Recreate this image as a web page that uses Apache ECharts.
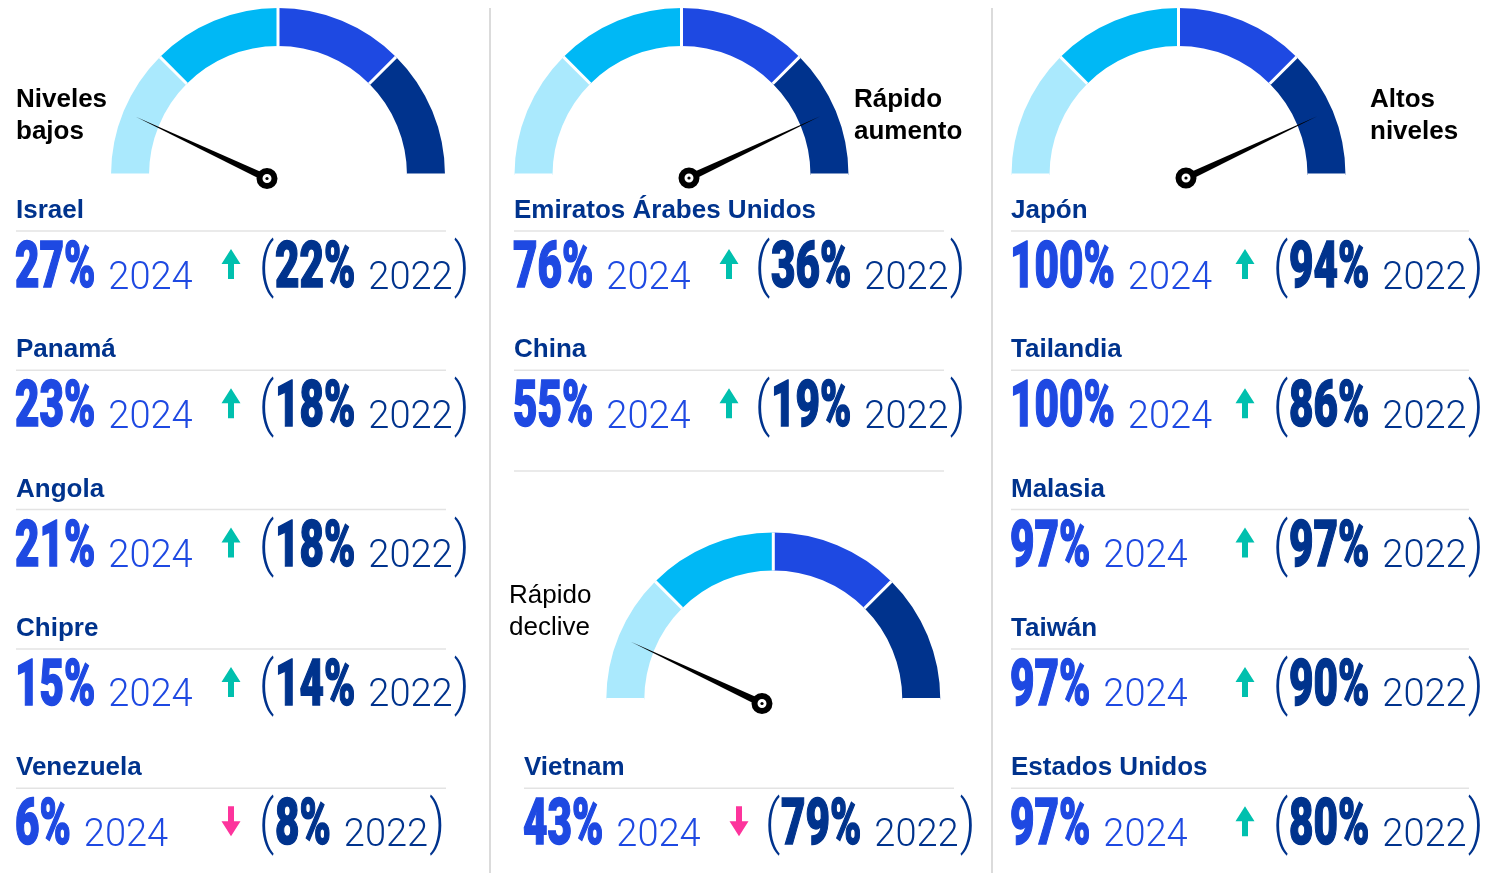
<!DOCTYPE html>
<html>
<head>
<meta charset="utf-8">
<script src="https://cdn.jsdelivr.net/npm/echarts@6/dist/echarts.min.js"></script>
<style>
  html, body { margin: 0; background: #fff; }
  #chart { width: 1499px; height: 873px; }
</style>
</head>
<body>
<div id="chart"></div>
<script>
// data
const countries = ['Israel', 'Panamá', 'Angola', 'Chipre', 'Venezuela',
  'Emiratos Árabes Unidos', 'China', 'Vietnam',
  'Japón', 'Tailandia', 'Malasia', 'Taiwán', 'Estados Unidos']
const share2024 = [27, 23, 21, 15, 6, 76, 55, 43, 100, 100, 97, 97, 97]
const share2022 = [22, 18, 18, 14, 8, 36, 19, 79, 94, 86, 97, 90, 80]
const gaugeLabels = ['Niveles\nbajos', 'Rápido\naumento', 'Altos\nniveles', 'Rápido\ndeclive']
const needleValues = [14, 86, 86, 14]
const bandColors = ['#AAE9FD', '#00B8F5', '#1E49E2', '#00338D']

// layout: [column, row, extra x shift]
const slots = [[0, 0, 0], [0, 1, 0], [0, 2, 0], [0, 3, 0], [0, 4, 0],
  [1, 0, 0], [1, 1, 0], [1, 4, 10],
  [2, 0, 0], [2, 1, 0], [2, 2, 0], [2, 3, 0], [2, 4, 0]]
const colX = [16, 514, 1011]
const colLineW = [430, 430, 458]
const arrowOff = [215, 215, 234]
const parenOff = [246, 244, 265]
const rowStep = 139.3
const gauges = [
  { c: [278, 175], pivot: [267, 178.5], label: [16, 98], bold: true },
  { c: [681.5, 175], pivot: [689, 178], label: [854, 98], bold: true },
  { c: [1178.5, 175], pivot: [1186, 178], label: [1370, 98], bold: true },
  { c: [773.3, 699.5], pivot: [762, 703.5], label: [509, 594], bold: false }
]

const DARK = '#00338D'
const BLUE = '#1E49E2'
const UP = '#00C0AE'
const DOWN = '#FD349C'
const NUM_SCALE = 0.66

const ctx = document.createElement('canvas').getContext('2d')
const textW = (font, s) => { ctx.font = font; return ctx.measureText(s).width }

const chart = echarts.init(document.getElementById('chart'))

const series = []
gauges.forEach((g, i) => {
  series.push({
    type: 'gauge',
    silent: true,
    center: g.c,
    radius: 167,
    startAngle: 180,
    endAngle: 0,
    min: 0,
    max: 100,
    splitNumber: 4,
    axisLine: {
      lineStyle: {
        width: 38,
        color: bandColors.map((c, k) => [(k + 1) / 4, c])
      }
    },
    splitLine: { distance: -38, length: 38, lineStyle: { color: '#fff', width: 3 } },
    axisTick: { show: false },
    axisLabel: { show: false },
    pointer: { show: false },
    anchor: { show: false },
    title: { show: false },
    detail: { show: false },
    data: []
  })
  series.push({
    type: 'gauge',
    silent: true,
    center: g.pivot,
    radius: 145,
    startAngle: 180,
    endAngle: 0,
    min: 0,
    max: 100,
    axisLine: { show: false },
    splitLine: { show: false },
    axisTick: { show: false },
    axisLabel: { show: false },
    pointer: {
      icon: 'path://M50 0 L100 1000 L0 1000 Z',
      length: 145,
      width: 7,
      itemStyle: { color: '#000' }
    },
    anchor: {
      show: true,
      showAbove: true,
      size: 15,
      itemStyle: { color: '#fff', borderColor: '#000', borderWidth: 6 }
    },
    title: { show: false },
    detail: { show: false },
    data: [{ value: needleValues[i] }]
  })
})

const graphic = []
// column dividers
;[490, 992].forEach(x => {
  graphic.push({ type: 'line', shape: { x1: x, y1: 8, x2: x, y2: 873 }, style: { stroke: '#cfcfcf', lineWidth: 1.5 } })
})
graphic.push({ type: 'line', shape: { x1: 514, y1: 471, x2: 944, y2: 471 }, style: { stroke: '#e3e3e3', lineWidth: 1.5 } })

gauges.forEach((g, i) => {
  graphic.push({
    type: 'text', x: g.label[0], y: g.label[1] - 14,
    style: {
      text: gaugeLabels[i], fill: '#000',
      fontFamily: 'Liberation Sans', fontWeight: g.bold ? 'bold' : 'normal', fontSize: 26,
      lineHeight: 32, verticalAlign: 'top'
    }
  })
  graphic.push({ type: 'circle', z: 200, shape: { cx: g.pivot[0], cy: g.pivot[1], r: 1.6 }, style: { fill: '#000' } })
})

const numFont = '900 64px Roboto'
const yearFont = '300 38px Roboto'

// condensed heavy figure (scaled horizontally)
const bigNum = (text, x, y, color) => ({
  type: 'text', x: x, y: y, scaleX: NUM_SCALE,
  style: {
    text, fill: color, stroke: color, lineWidth: 1.5,
    fontFamily: 'Roboto', fontWeight: 900, fontSize: 64, verticalAlign: 'middle'
  }
})
const year = (text, x, y, color) => ({
  type: 'text', x: x, y: y,
  style: { text, fill: color, fontFamily: 'Roboto', fontWeight: 300, fontSize: 38, verticalAlign: 'middle' }
})
const paren = (text, x, y) => ({
  type: 'text', x: x, y: y, scaleX: 0.8,
  style: { text, fill: DARK, fontFamily: 'Roboto', fontWeight: 300, fontSize: 60, verticalAlign: 'middle' }
})

countries.forEach((name, i) => {
  const [col, row, dx] = slots[i]
  const x0 = colX[col] + dx
  const nameY = 211 + row * rowStep
  const lineY = 231 + row * rowStep
  const base = 289 + row * rowStep

  graphic.push({
    type: 'text', x: x0, y: nameY,
    style: { text: name, fill: DARK, fontFamily: 'Liberation Sans', fontWeight: 'bold', fontSize: 26, verticalAlign: 'middle' }
  })
  graphic.push({ type: 'line', shape: { x1: x0, y1: lineY, x2: x0 + colLineW[col], y2: lineY }, style: { stroke: '#e3e3e3', lineWidth: 1.5 } })

  // current value + year
  const n1 = share2024[i] + '%'
  const w1 = textW(numFont, n1) * NUM_SCALE
  graphic.push(bigNum(n1, x0 - 1, base - 18, BLUE))
  graphic.push(year('2024', x0 + w1 + 12, base - 10, BLUE))

  // trend arrow
  const ax = x0 + arrowOff[col]
  const top = base - 40
  const bot = base - 10
  const up = share2024[i] >= share2022[i]
  const pts = up
    ? [[ax, top], [ax + 9.5, top + 15], [ax + 3, top + 15], [ax + 3, bot], [ax - 3, bot], [ax - 3, top + 15], [ax - 9.5, top + 15]]
    : [[ax, bot], [ax + 9.5, bot - 15], [ax + 3, bot - 15], [ax + 3, top], [ax - 3, top], [ax - 3, bot - 15], [ax - 9.5, bot - 15]]
  graphic.push({ type: 'polygon', shape: { points: pts }, style: { fill: up ? UP : DOWN } })

  // previous value in parentheses
  const px = x0 + parenOff[col]
  graphic.push(paren('(', px - 3, base - 19))
  const n2 = share2022[i] + '%'
  const nx = px + 14
  const w2 = textW(numFont, n2) * NUM_SCALE
  graphic.push(bigNum(n2, nx - 1, base - 18, DARK))
  const yx = nx + w2 + 12
  const wy = textW(yearFont, '2022')
  graphic.push(year('2022', yx, base - 10, DARK))
  graphic.push(paren(')', yx + wy + 1, base - 19))
})

chart.setOption({
  animation: false,
  backgroundColor: '#fff',
  series,
  graphic
})
</script>
</body>
</html>
